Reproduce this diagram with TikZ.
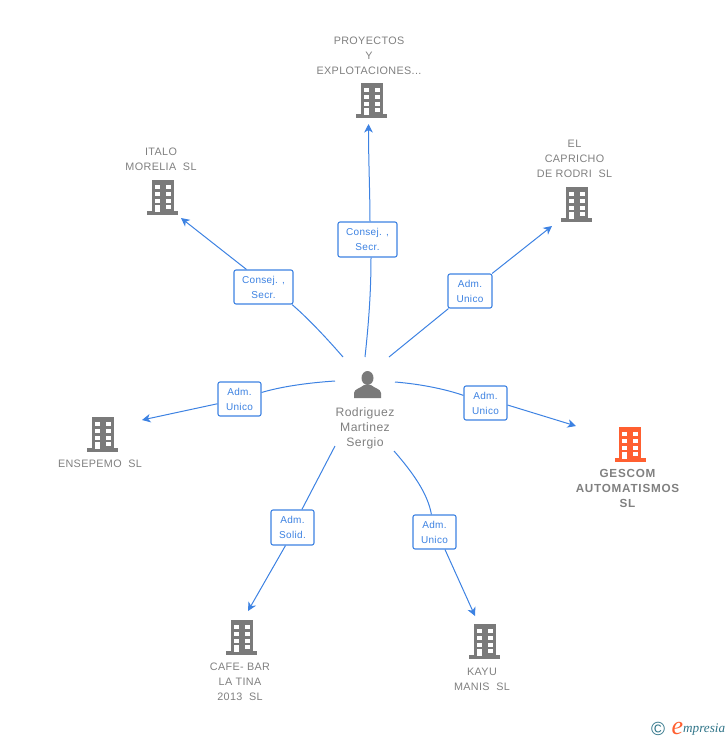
\documentclass[tikz,border=0pt]{standalone}
\usepackage{fontspec}
\setmainfont{Liberation Sans}[LetterSpace=3.3]
\newfontfamily\widefont{Liberation Sans}[LetterSpace=6.5]
\newfontfamily\logofont{Liberation Serif}
\definecolor{linkblue}{HTML}{3D82E2}
\definecolor{icongray}{HTML}{7A7A7A}
\definecolor{textgray}{HTML}{808080}
\definecolor{mainorange}{HTML}{FF5F30}
\definecolor{logoteal}{HTML}{2F7488}
\usetikzlibrary{arrows.meta}
\tikzset{
  rel/.style={draw=linkblue,rounded corners=2pt,fill=white,line width=1.1pt,inner sep=0pt,align=center,text=linkblue,font=\fontsize{10}{15}\selectfont},
  firm/.style={text=textgray,align=center,inner sep=0pt,font=\fontsize{10.8}{15}\selectfont},
  link/.style={linkblue,line width=1pt},
  arrow/.style={link,-{Stealth[length=8.5pt,width=8.5pt,inset=2.5pt]}},
  building/.pic={
    \fill[#1](-11,-17)rectangle(11,15);
    \fill[#1](-15.5,14)rectangle(15.5,18);
    \foreach \y in {-12.3,-5,1.7}{\fill[white](-8,\y)rectangle(-3,\y+4);\fill[white](3,\y)rectangle(8,\y+4);}
    \fill[white](-8,7.5)rectangle(-3,15);
    \fill[white](3,7.5)rectangle(8,12);
  }
}
\begin{document}
\begin{tikzpicture}[x=1pt,y=-1pt]
\useasboundingbox (0,0)rectangle(728,740);
% buildings
\foreach \x/\y/\c in {371.5/100/icongray,162.5/197/icongray,576.5/204/icongray,102.5/434/icongray,630/444/mainorange,241.5/637/icongray,484.5/641/icongray}
  \pic at (\x,\y) {building=\c};
% person
\fill[icongray](367.5,378)ellipse[x radius=6,y radius=7];
\fill[icongray](354,398)--(354,393)..controls(354,389)and(361,388)..(364,385)--(371,385)..controls(374,388)and(381,389)..(381,393)--(381,398)--cycle;
\node[firm,font=\fontsize{12.2}{15}\selectfont] (person) at (365,428) {Rodriguez\\Martinez\\Sergio};
% names
\node[firm] (proyectos) at (369,55.5) {PROYECTOS\\Y\\EXPLOTACIONES...};
\node[firm] (italo) at (161,159) {ITALO\\MORELIA\ \ SL};
\node[firm] (capricho) at (574.5,158.5) {EL\\CAPRICHO\\DE RODRI\ \ SL};
\node[firm] (ensepemo) at (100,463.5) {ENSEPEMO\ \ SL};
\node[firm,font=\fontsize{11.7}{15}\widefont\bfseries\selectfont] (gescom) at (627.5,488) {GESCOM\\AUTOMATISMOS\\SL};
\node[firm] (cafe) at (240,682) {CAFE- BAR\\LA TINA\\2013\ \ SL};
\node[firm] (kayu) at (482,679) {KAYU\\MANIS\ \ SL};
% roles
\node[rel,minimum width=59pt,minimum height=35pt] (r1) at (367.5,239.5) {Consej. ,\\Secr.};
\node[rel,minimum width=59pt,minimum height=34pt] (r2) at (263.5,287) {Consej. ,\\Secr.};
\node[rel,minimum width=44pt,minimum height=34pt] (r3) at (470,291) {Adm.\\Unico};
\node[rel,minimum width=43pt,minimum height=34pt] (r4) at (485.5,403) {Adm.\\Unico};
\node[rel,minimum width=43pt,minimum height=34pt] (r5) at (239.5,399) {Adm.\\Unico};
\node[rel,minimum width=43pt,minimum height=35pt] (r6) at (292.5,527.5) {Adm.\\Solid.};
\node[rel,minimum width=43pt,minimum height=34pt] (r7) at (434.5,532) {Adm.\\Unico};
% free ends
\foreach \n/\x/\y in {a1/365/357,b1/368.5/124,a2/343/357,b2/181/218,a3/389/357,b3/552/226,a4/395/382,b4/576/426,a5/335/381,b5/142/420,a6/335/446,b6/248/611,a7/394/451,b7/475/616}
  \coordinate (\n) at (\x,\y);
% links
\draw[link] (a1)..controls(369,320)and(371,290)..([xshift=3.5pt]r1.south);
\draw[arrow] ([xshift=2.5pt]r1.north)..controls(370,195)and(368.5,160)..(b1);
\draw[link] (a2)..controls(330,342)and(310,320)..([xshift=-1.5pt]r2.south east);
\draw[arrow] ([xshift=-17pt]r2.north)--(b2);
\draw[link] (a3)--(r3);
\draw[arrow] (r3)--(b3);
\draw[link] (a4)..controls(420,384)and(445,389)..(r4);
\draw[arrow] ([yshift=-2pt]r4.east)--(b4);
\draw[link] (a5)..controls(305,383)and(280,387)..(r5);
\draw[arrow] (r5)--(b5);
\draw[link] (a6)--(r6);
\draw[arrow] ([xshift=-7pt]r6.south)--(b6);
\draw[link] (a7)..controls(415,475)and(428,495)..(r7);
\draw[arrow] ([xshift=10.5pt]r7.south)--(b7);
% logo
\node[text=logoteal,inner sep=0pt,font=\fontsize{19}{19}\selectfont] (copy) at (658,728.5) {©};
\node[text=mainorange,inner sep=0pt,font=\fontsize{26}{26}\logofont\itshape\selectfont] (logoe) at (677.5,728) {e};
\node[text=logoteal,inner sep=0pt,anchor=west,font=\fontsize{13.2}{14}\logofont\itshape\selectfont] (logotext) at (683,730) {mpresia};
\end{tikzpicture}
\end{document}
